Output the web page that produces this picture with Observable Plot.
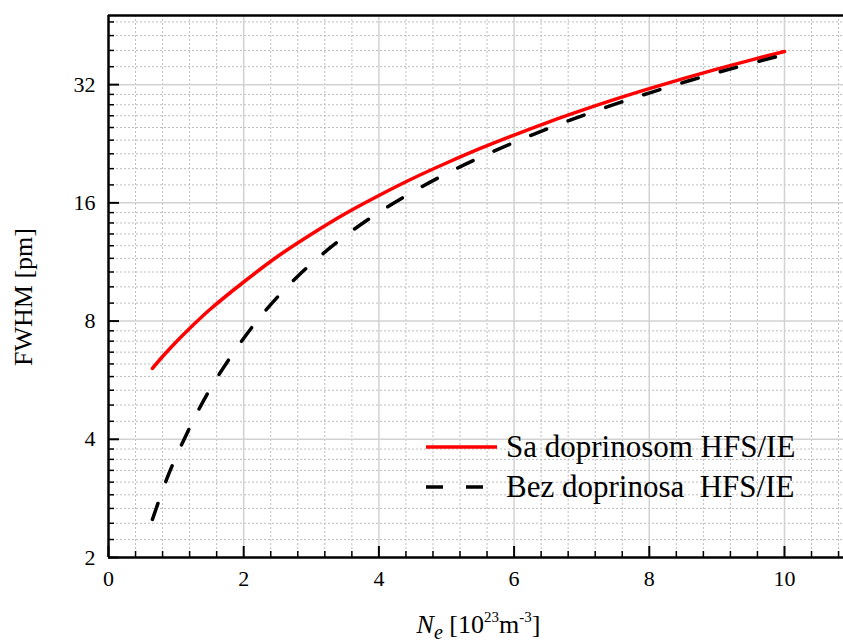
<!DOCTYPE html>
<html><head><meta charset="utf-8">
<script src="https://cdn.jsdelivr.net/npm/d3@7"></script>
<script src="https://cdn.jsdelivr.net/npm/@observablehq/plot@0.6"></script>
<style>body{margin:0;background:#fff} svg{display:block}</style>
</head><body><div id="chart"></div>
<script>
// Data (Ne in 10^23 m^-3, FWHM in pm)
const neRed = [0.65,0.8,1.0,1.2,1.5,2.0,2.5,3.0,3.5,4.0,4.5,5.0,5.5,6.0,6.5,7.0,7.5,8.0,8.5,9.0,9.5,10.0];
const fwhmRed = [6.06,6.50,7.08,7.66,8.56,10.06,11.68,13.31,15.01,16.71,18.46,20.21,22.01,23.81,25.66,27.51,29.39,31.26,33.16,35.06,36.96,38.86];
const neBlack = [0.65,0.89,1.16,1.47,1.84,2.26,2.80,3.38,3.95,4.54,5.11,5.70,6.28,6.86,7.44,8.02,8.6,9.18,9.76,10.0];
const fwhmBlack = [2.50,3.26,4.14,5.25,6.61,8.26,10.41,12.70,14.94,17.22,19.41,21.66,23.88,26.10,28.33,30.55,32.78,35.00,37.22,38.14];
const seriesNames = ["Sa doprinosom HFS/IE", "Bez doprinosa  HFS/IE"];
const xTicks = [0,2,4,6,8,10];
const yTicks = [2,4,8,16,32];
const xDomain = [0, 10.873];
const yDomain = [2, 48];

const xMinor = d3.range(0, 10.9, 0.4).map(v => +v.toFixed(2)).filter(v => !xTicks.some(t => Math.abs(t - v) < 1e-6));
const yMinor = [];
for (const b of yTicks) for (let k = 1; k <= 8; k++) { const v = b * (1 + k / 9); if (v < yDomain[1]) yMinor.push(v); }

const red = neRed.map((x, i) => ({x, y: fwhmRed[i]}));
const black = neBlack.map((x, i) => ({x, y: fwhmBlack[i]}));

const FONT = "Liberation Serif";
const W = 843, H = 644;

const plot = Plot.plot({
  width: W, height: H,
  marginLeft: 108, marginRight: 0, marginTop: 15, marginBottom: 87,
  x: {domain: xDomain},
  y: {type: "log", base: 2, domain: yDomain},
  style: {fontFamily: FONT, background: "#fff", color: "#000"},
  marks: [
    Plot.gridX(xMinor, {stroke: "#bdbdbd", strokeOpacity: 1, strokeWidth: 1, strokeDasharray: "2,2"}),
    Plot.gridY(yMinor, {stroke: "#bdbdbd", strokeOpacity: 1, strokeWidth: 1, strokeDasharray: "2,2"}),
    Plot.gridX(xTicks.filter(d => d > 0), {stroke: "#d2d2d2", strokeOpacity: 1, strokeWidth: 1.5}),
    Plot.gridY(yTicks.filter(d => d > 2), {stroke: "#d2d2d2", strokeOpacity: 1, strokeWidth: 1.5}),
    Plot.line(red, {x: "x", y: "y", stroke: "#ff0000", strokeWidth: 3.5, curve: "catmull-rom"}),
    Plot.line(black, {x: "x", y: "y", stroke: "#000", strokeWidth: 3.5, strokeDasharray: "17,23", curve: "catmull-rom"}),
    Plot.ruleX([xDomain[0]], {stroke: "#000", strokeWidth: 2.5}),
    Plot.ruleY([yDomain[0]], {stroke: "#000", strokeWidth: 2.5}),
    Plot.ruleY([yDomain[1]], {stroke: "#000", strokeWidth: 2.5}),
    Plot.axisX(xMinor, {tickSize: -6, strokeWidth: 1.5, text: null, label: null}),
    Plot.axisX(xTicks, {tickSize: -11, strokeWidth: 2, text: null, label: null}),
    Plot.axisX(xTicks, {tickSize: 0, tickPadding: 13, fontSize: 22, fontFamily: FONT, fill: "#000", label: null, tickFormat: d => String(d)}),
    Plot.axisY(yMinor, {tickSize: -6, strokeWidth: 1.5, text: null, label: null}),
    Plot.axisY(yTicks, {tickSize: -11, strokeWidth: 2, text: null, label: null}),
    Plot.axisY(yTicks, {tickSize: 0, tickPadding: 13, fontSize: 22, fontFamily: FONT, fill: "#000", label: null, tickFormat: d => String(d)})
  ]
});
document.getElementById("chart").appendChild(plot);

const svg = d3.select(plot);
const xs = plot.scale("x"), ys = plot.scale("y");
const [xr0, xr1] = xs.range, [yr0, yr1] = ys.range;

// Axis titles
svg.append("text")
  .attr("transform", `translate(32,${(yr0 + yr1) / 2 + 11}) rotate(-90)`)
  .attr("text-anchor", "middle").attr("font-family", FONT).attr("font-size", 26).attr("fill", "#000")
  .text("FWHM [pm]");

const xt = svg.append("text")
  .attr("x", (xr0 + xr1) / 2 + 3).attr("y", 633)
  .attr("text-anchor", "middle").attr("font-family", FONT).attr("font-size", 26).attr("fill", "#000");
xt.append("tspan").attr("font-style", "italic").text("N");
xt.append("tspan").attr("font-style", "italic").attr("font-size", 20).attr("dy", 6).text("e");
xt.append("tspan").attr("dy", -6).text(" [10");
xt.append("tspan").attr("font-size", 15).attr("dy", -11).text("23");
xt.append("tspan").attr("dy", 11).text("m");
xt.append("tspan").attr("font-size", 15).attr("dy", -11).text("-3");
xt.append("tspan").attr("dy", 11).text("]");

// Legend
const lg = svg.append("g").attr("font-family", FONT).attr("font-size", 31).attr("fill", "#000").attr("text-anchor", "start");
const rows = [
  {name: seriesNames[0], stroke: "#ff0000", dash: null, y: 447},
  {name: seriesNames[1], stroke: "#000", dash: "17,23", y: 487}
];
for (const r of rows) {
  lg.append("line").attr("x1", 426).attr("x2", 497).attr("y1", r.y).attr("y2", r.y)
    .attr("stroke", r.stroke).attr("stroke-width", 3.5).attr("stroke-dasharray", r.dash);
  lg.append("text").attr("x", 506).attr("y", r.y + 10).attr("text-anchor", "start")
    .style("white-space", "pre").text(r.name);
}
</script>
</body></html>
